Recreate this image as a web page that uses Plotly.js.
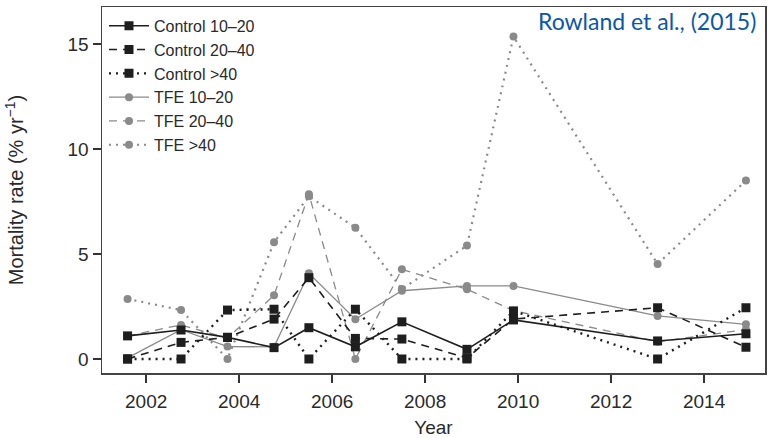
<!DOCTYPE html>
<html>
<head>
<meta charset="utf-8">
<script src="https://cdn.plot.ly/plotly-3.0.1.min.js"></script>
<style>html,body{margin:0;padding:0;background:#fff;}#chart{width:768px;height:438px;}</style>
</head>
<body>
<div id="chart"></div>
<script>
const years = [2001.6, 2002.75, 2003.75, 2004.75, 2005.5, 2006.5, 2007.5, 2008.9, 2009.9, 2013.0, 2014.9];
const control_10_20 = [1.1, 1.38, 1.03, 0.54, 1.49, 0.58, 1.77, 0.46, 1.86, 0.86, 1.2];
const control_20_40 = [0, 0.79, 1.03, 1.9, 3.87, 0.98, 0.95, 0.05, 1.9, 2.44, 0.56];
const control_gt40 = [0, 0, 2.33, 2.37, 0, 2.37, 0, 0, 2.29, 0, 2.44];
const tfe_10_20 = [0.05, 1.4, 0.59, 0.58, 4.08, 1.89, 3.25, 3.48, 3.48, 2.05, 1.65];
const tfe_20_40 = [1.1, 1.62, 1.0, 3.03, 7.85, 0.0, 4.27, 3.32, 2.3, 0.82, 1.4];
const tfe_gt40 = [2.86, 2.33, 0.0, 5.56, 7.75, 6.25, 3.33, 5.4, 15.35, 4.52, 8.5];
const names = ["Control 10\u201320", "Control 20\u201340", "Control >40", "TFE 10\u201320", "TFE 20\u201340", "TFE >40"];

const black = "#1e1e1e", gray = "#8a8a8a";
function tr(name, y, color, dash, symbol, size, width) {
  return {x: years, y: y, name: name, type: "scatter", mode: "lines+markers",
    line: {color: color, width: width, dash: dash},
    marker: {color: color, symbol: symbol, size: size}};
}
const data = [
  tr(names[5], tfe_gt40, gray, "2px,5px", "circle", 8, 2.2),
  tr(names[4], tfe_20_40, gray, "8px,6px", "circle", 8, 1.3),
  tr(names[3], tfe_10_20, gray, "solid", "circle", 8, 1.3),
  tr(names[2], control_gt40, black, "2px,5px", "square", 9, 2.4),
  tr(names[1], control_20_40, black, "8px,6px", "square", 9, 1.6),
  tr(names[0], control_10_20, black, "solid", "square", 9, 1.6)
];
const FONT = "'Liberation Sans', Arial, Helvetica, sans-serif";
const layout = {
  width: 768, height: 438,
  margin: {l: 102, r: 3, t: 7, b: 65},
  paper_bgcolor: "#fff", plot_bgcolor: "#fff",
  font: {family: FONT, color: "#2a2a2a"},
  showlegend: true,
  legend: {x: 0.003, y: 0.995, xanchor: "left", yanchor: "top", traceorder: "reversed",
    font: {family: FONT, size: 16, color: "#2a2a2a"}, bgcolor: "rgba(0,0,0,0)",
    itemwidth: 40, tracegroupgap: 0},
  xaxis: {range: [2001.05, 2015.31], tickvals: [2002, 2004, 2006, 2008, 2010, 2012, 2014],
    ticks: "outside", ticklen: 8, tickwidth: 1.4, tickcolor: "#333", ticklabelstandoff: 3,
    showline: true, linecolor: "#444", linewidth: 1.5, mirror: true,
    showgrid: false, zeroline: false, tickfont: {family: FONT, size: 19},
    title: {text: "Year", font: {family: FONT, size: 19}, standoff: 11}},
  yaxis: {range: [-0.667, 16.76], tickvals: [0, 5, 10, 15],
    ticks: "outside", ticklen: 8, tickwidth: 1.4, tickcolor: "#333",
    showline: true, linecolor: "#444", linewidth: 1.5, mirror: true,
    showgrid: false, zeroline: false, tickfont: {family: FONT, size: 19},
    title: {text: "Mortality rate (% yr<sup>\u22121</sup>)", font: {family: FONT, size: 20}, standoff: 38}},
  annotations: [{xref: "paper", yref: "paper", x: 0.99, y: 0.962, xanchor: "right", yanchor: "middle",
    text: "Rowland et al., (2015)", showarrow: false,
    font: {family: "Lato, sans-serif", size: 23, color: "#0b57a8"}}]
};
Plotly.newPlot("chart", data, layout, {displayModeBar: false, staticPlot: true});
</script>
</body>
</html>
